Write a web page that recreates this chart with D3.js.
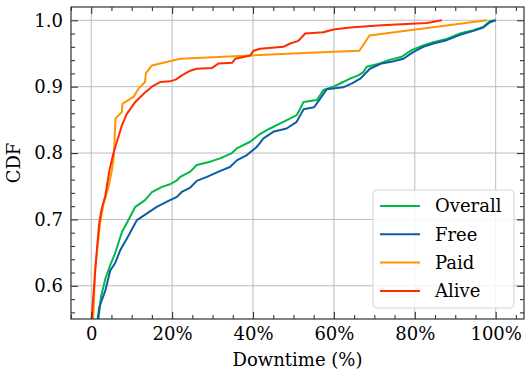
<!DOCTYPE html>
<html>
<head>
<meta charset="utf-8">
<script src="https://cdn.jsdelivr.net/npm/d3@7"></script>
<style>
    body { margin: 0; background: #fff; }
    .chart-cdf text { font-family: "DejaVu Serif", serif; font-size: 18px; fill: #000; }
    .axis .domain { display: none; }
    .axis line { stroke: #333; stroke-width: 1.1; }
    .grid line { stroke: #bdbdbd; stroke-width: 1; }
</style>
</head>
<body>
<div class="chart-cdf"><svg></svg></div>
<script>
// Datos (downtime en %, CDF)
const seriesNames = ['Overall', 'Free', 'Paid', 'Alive'];
const seriesColors = ['#00B945', '#0C5DA5', '#FF9500', '#FF2C00'];

const overallX = [1.6, 1.8, 2.4, 3.0, 3.5, 4.7, 5.9, 7.6, 9.2, 10.9, 13.3, 15.0, 17.5, 19.5, 21.2, 22.0, 24.5, 26.1, 29.4, 31.9, 34.8, 36.0, 39.3, 41.8, 44.2, 47.5, 50.8, 51.6, 52.5, 55.8, 57.4, 59.9, 62.3, 64.0, 66.0, 67.3, 68.1, 71.4, 73.5, 76.8, 79.2, 82.1, 84.6, 87.9, 91.2, 94.5, 96.9, 98.6, 100];
const overallY = [0.53, 0.55, 0.583, 0.598, 0.611, 0.631, 0.649, 0.681, 0.699, 0.719, 0.729, 0.741, 0.749, 0.753, 0.759, 0.764, 0.772, 0.782, 0.787, 0.792, 0.800, 0.807, 0.817, 0.829, 0.837, 0.847, 0.857, 0.866, 0.877, 0.880, 0.895, 0.900, 0.907, 0.912, 0.917, 0.922, 0.930, 0.935, 0.940, 0.945, 0.955, 0.962, 0.967, 0.972, 0.980, 0.985, 0.990, 0.999, 1.0];

const freeX = [1.4, 1.6, 2.0, 3.5, 4.7, 5.9, 7.2, 8.8, 11.3, 13.8, 16.2, 19.1, 21.2, 22.5, 24.5, 26.1, 28.6, 31.5, 34.3, 36.0, 38.5, 40.9, 42.6, 45.0, 48.3, 50.8, 51.6, 52.5, 55.1, 56.4, 58.2, 62.3, 64.5, 66.5, 68.9, 71.8, 74.5, 77.2, 79.6, 82.1, 84.6, 87.9, 91.2, 94.5, 96.9, 98.6, 100];
const freeY = [0.53, 0.55, 0.568, 0.593, 0.623, 0.634, 0.654, 0.671, 0.699, 0.709, 0.719, 0.728, 0.734, 0.742, 0.748, 0.758, 0.764, 0.772, 0.779, 0.789, 0.797, 0.809, 0.822, 0.832, 0.837, 0.847, 0.856, 0.866, 0.869, 0.880, 0.896, 0.899, 0.905, 0.912, 0.927, 0.935, 0.938, 0.942, 0.952, 0.960, 0.965, 0.970, 0.978, 0.984, 0.989, 0.997, 1.0];

const paidX = [0.3, 0.5, 1.0, 2.2, 3.0, 4.3, 5.1, 5.6, 6.0, 7.6, 7.7, 10.5, 11.7, 13.3, 13.5, 15.0, 22.0, 54.0, 66.3, 68.8, 97.8];
const paidY = [0.53, 0.55, 0.628, 0.695, 0.722, 0.750, 0.774, 0.795, 0.852, 0.862, 0.874, 0.885, 0.897, 0.907, 0.920, 0.932, 0.942, 0.951, 0.954, 0.977, 1.0];

const aliveX = [0.0, 0.1, 1.0, 1.9, 2.2, 2.6, 3.5, 4.5, 5.5, 7.2, 7.6, 8.8, 10.9, 13.1, 15.0, 17.0, 19.5, 21.0, 22.4, 24.5, 26.1, 29.8, 31.5, 34.8, 35.6, 39.3, 40.1, 41.8, 47.5, 49.2, 51.2, 52.9, 57.4, 59.9, 64.0, 71.8, 82.9, 84.0, 86.7];
const aliveY = [0.53, 0.55, 0.624, 0.690, 0.703, 0.716, 0.736, 0.774, 0.800, 0.834, 0.842, 0.859, 0.877, 0.890, 0.900, 0.907, 0.908, 0.911, 0.917, 0.924, 0.927, 0.928, 0.935, 0.936, 0.942, 0.947, 0.954, 0.957, 0.960, 0.965, 0.969, 0.980, 0.982, 0.986, 0.989, 0.9925, 0.996, 0.997, 1.0];

const xTicks = [0, 20, 40, 60, 80, 100];
const xTickLabels = ['0', '20%', '40%', '60%', '80%', '100%'];
const yTicks = [0.6, 0.7, 0.8, 0.9, 1.0];

const cdfChart = () => {
    const margin = { top: 7, right: 7, bottom: 59, left: 71 };
    const w = 531;
    const h = 378;
    const width = w - margin.left - margin.right;
    const height = h - margin.top - margin.bottom;
    const chart = d3.select('.chart-cdf');
    const svg = chart.select('svg').attr('width', w).attr('height', h);
    const scales = {};

    const series = [
        { name: seriesNames[0], x: overallX, y: overallY, color: seriesColors[0] },
        { name: seriesNames[1], x: freeX, y: freeY, color: seriesColors[1] },
        { name: seriesNames[2], x: paidX, y: paidY, color: seriesColors[2] },
        { name: seriesNames[3], x: aliveX, y: aliveY, color: seriesColors[3] }
    ];

    //Escalas
    const setupScales = () => {
        scales.x = d3.scaleLinear().domain([-5, 107]).range([0, width]);
        scales.y = d3.scaleLinear().domain([0.55, 1.02]).range([height, 0]);
    }

    const g = svg.append('g')
        .attr('transform', 'translate(' + margin.left + ',' + margin.top + ')');

    //Rejilla
    const drawGrid = () => {
        const grid = g.append('g').attr('class', 'grid');
        grid.selectAll('.gx').data(xTicks).enter().append('line')
            .attr('x1', d => scales.x(d)).attr('x2', d => scales.x(d))
            .attr('y1', 0).attr('y2', height);
        grid.selectAll('.gy').data(yTicks).enter().append('line')
            .attr('y1', d => scales.y(d)).attr('y2', d => scales.y(d))
            .attr('x1', 0).attr('x2', width);
    }

    //Ejes con ticks hacia dentro en los cuatro lados
    const drawAxes = () => {
        const xMinor = d3.range(-5, 106, 5).filter(d => d % 20 !== 0);
        const yMinor = d3.range(0.56, 1.01, 0.02).filter(d => Math.abs(d * 10 - Math.round(d * 10)) > 0.01);

        g.append('g').attr('class', 'axis axis-x')
            .attr('transform', 'translate(0,' + height + ')')
            .call(d3.axisBottom(scales.x).tickValues(xTicks)
                .tickFormat((d, i) => xTickLabels[i]).tickSize(-7).tickPadding(8));
        g.append('g').attr('class', 'axis')
            .attr('transform', 'translate(0,' + height + ')')
            .call(d3.axisBottom(scales.x).tickValues(xMinor).tickFormat('').tickSize(-4));
        g.append('g').attr('class', 'axis')
            .call(d3.axisTop(scales.x).tickValues(xTicks).tickFormat('').tickSize(-7));
        g.append('g').attr('class', 'axis')
            .call(d3.axisTop(scales.x).tickValues(xMinor).tickFormat('').tickSize(-4));

        g.append('g').attr('class', 'axis axis-y')
            .call(d3.axisLeft(scales.y).tickValues(yTicks)
                .tickFormat(d3.format('.1f')).tickSize(-7).tickPadding(8));
        g.append('g').attr('class', 'axis')
            .call(d3.axisLeft(scales.y).tickValues(yMinor).tickFormat('').tickSize(-4));
        g.append('g').attr('class', 'axis')
            .attr('transform', 'translate(' + width + ',0)')
            .call(d3.axisRight(scales.y).tickValues(yTicks).tickFormat('').tickSize(-7));
        g.append('g').attr('class', 'axis')
            .attr('transform', 'translate(' + width + ',0)')
            .call(d3.axisRight(scales.y).tickValues(yMinor).tickFormat('').tickSize(-4));

        g.selectAll('.axis text').attr('font-family', null).attr('font-size', null);
    }

    //Curvas
    const drawLines = () => {
        svg.append('defs').append('clipPath').attr('id', 'clip-area')
            .append('rect').attr('width', width).attr('height', height);

        const line = d3.line()
            .x(d => scales.x(d[0]))
            .y(d => scales.y(d[1]));

        g.append('g').attr('clip-path', 'url(#clip-area)')
            .selectAll('.cdf-line')
            .data(series)
            .enter()
            .append('path')
            .attr('class', 'cdf-line')
            .attr('fill', 'none')
            .attr('stroke', d => d.color)
            .attr('stroke-width', 2)
            .attr('stroke-linejoin', 'round')
            .attr('d', d => line(d.x.map((x, i) => [x, d.y[i]])));
    }

    const drawFrame = () => {
        g.append('rect')
            .attr('width', width).attr('height', height)
            .attr('fill', 'none').attr('stroke', '#333').attr('stroke-width', 1.2);
    }

    const drawLabels = () => {
        g.append('text')
            .attr('x', width / 2).attr('y', h - margin.top - 12)
            .attr('text-anchor', 'middle')
            .text('Downtime (%)');
        g.append('text')
            .attr('transform', 'translate(' + (-51) + ',' + height / 2 + ') rotate(-90)')
            .attr('text-anchor', 'middle')
            .text('CDF');
    }

    const drawLegend = () => {
        const lg = g.append('g').attr('transform', 'translate(' + (373 - margin.left) + ',' + (190 - margin.top) + ')');
        lg.append('rect')
            .attr('width', 141).attr('height', 118).attr('rx', 4)
            .attr('fill', '#fff').attr('fill-opacity', 0.85)
            .attr('stroke', '#d4d4d4').attr('stroke-width', 1);
        const items = lg.selectAll('.legend-item').data(series).enter()
            .append('g')
            .attr('class', 'legend-item')
            .attr('transform', (d, i) => 'translate(0,' + (16 + i * 28.3) + ')');
        items.append('line')
            .attr('x1', 7).attr('x2', 47)
            .attr('stroke', d => d.color).attr('stroke-width', 2);
        items.append('text')
            .attr('x', 62).attr('dy', '0.36em')
            .text(d => d.name);
    }

    setupScales();
    drawGrid();
    drawLines();
    drawAxes();
    drawFrame();
    drawLegend();
    drawLabels();
}

cdfChart();
</script>
</body>
</html>
